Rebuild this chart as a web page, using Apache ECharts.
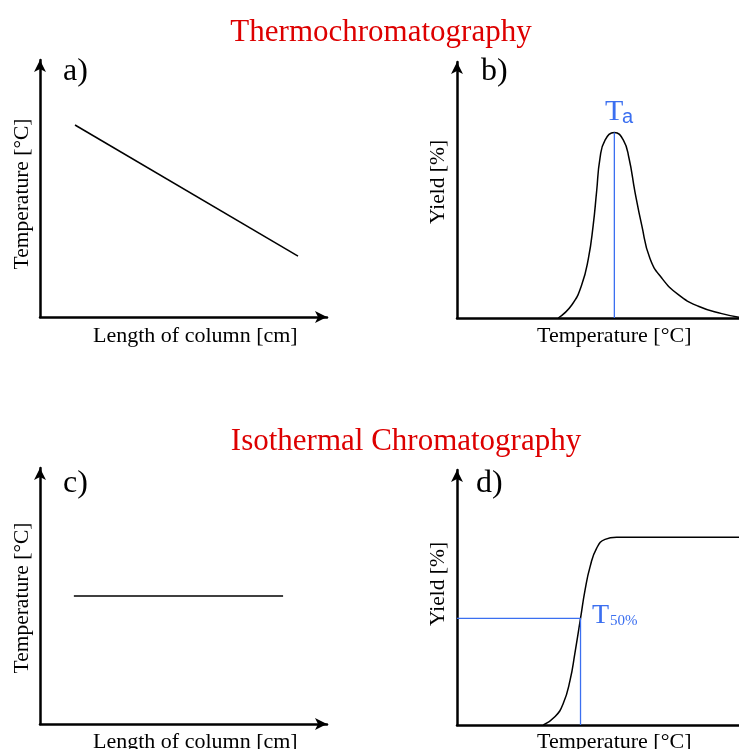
<!DOCTYPE html>
<html lang="en">
<head>
<meta charset="UTF-8">
<title>Thermochromatography vs isothermal chromatography</title>
<script src="https://cdn.jsdelivr.net/npm/echarts@6/dist/echarts.min.js"></script>
<style>
    * { margin: 0; padding: 0; }
    body { background: #fff; }
</style>
</head>
<body>
<div id="main" style="width:739px;height:749px;"></div>
<script>
// a) temperature along the column (gradient)
var gradientLine = [[12.2, 74.7], [89.9, 23.7]];
// b) yield peak vs temperature
var peakCurve = [
    [35.9, 0], [40.7, 5.1], [44.2, 12.9], [46.6, 23.3], [48.3, 36.3], [49.5, 49.3],
    [50.7, 62.4], [52.5, 69.5], [55.8, 72.5], [59.0, 69.5], [61.0, 62.4], [63.1, 49.3],
    [65.5, 36.3], [68.4, 23.3], [72.6, 15.6], [78.5, 9.1], [85.6, 4.6], [93.9, 1.7],
    [100, 0.3]
];
var peakTa = [55.8, 72.5];
// c) constant temperature along the column
var isoLine = [[11.8, 50], [84.7, 50]];
// d) yield (sigmoid) vs temperature
var sigmoidCurve = [
    [30.6, 0], [34.8, 3.3], [37.7, 8.5], [40.1, 17.6], [41.8, 28.1], [43.8, 41.8],
    [45.4, 52.9], [47.2, 62.1], [49.5, 69.3], [52.5, 72.8], [56.6, 73.6], [100, 73.6]
];
var point50 = [43.8, 41.8];

var black = '#000';
var blue = '#3b6ff0';
var red = '#dd0000';
var serif = '"Liberation Serif", "DejaVu Serif", serif';

var grids = [
    {left: 40, top: 60, width: 287, height: 257},
    {left: 457, top: 62, width: 282, height: 256},
    {left: 40, top: 468, width: 287, height: 256},
    {left: 457, top: 470, width: 282, height: 255}
];

function makeAxis(i, arrow) {
    return {
        type: 'value', gridIndex: i, min: 0, max: 100,
        axisLine: {
            show: true, onZero: false,
            symbol: arrow ? ['none', 'arrow'] : ['none', 'none'],
            symbolSize: [9, 12],
            lineStyle: {color: black, width: 2.5}
        },
        axisTick: {show: false},
        axisLabel: {show: false},
        splitLine: {show: false}
    };
}

var xAxes = [makeAxis(0, true), makeAxis(1, false), makeAxis(2, true), makeAxis(3, false)];
var yAxes = [makeAxis(0, true), makeAxis(1, true), makeAxis(2, true), makeAxis(3, true)];

function lineSeries(i, data, color, smooth, width) {
    return {
        type: 'line', xAxisIndex: i, yAxisIndex: i, data: data,
        showSymbol: false, smooth: smooth, silent: true,
        lineStyle: {color: color, width: width || 1.5}
    };
}

function txt(x, y, str, size, color) {
    return {
        type: 'text', left: x, top: y,
        style: {text: str, font: size + 'px ' + serif, fill: color || black}
    };
}

function vtxt(x, y, str) {
    return {
        type: 'text', x: x, y: y, rotation: Math.PI / 2,
        style: {text: str, font: '21.5px ' + serif, fill: black,
            align: 'center', verticalAlign: 'middle'}
    };
}

var chart = echarts.init(document.getElementById('main'));
chart.setOption({
    animation: false,
    backgroundColor: '#fff',
    title: [
        {text: 'Thermochromatography', left: 376, top: 12, textAlign: 'center',
            textStyle: {color: red, fontFamily: serif, fontSize: 31, fontWeight: 'normal'}},
        {text: 'Isothermal Chromatography', left: 401, top: 421, textAlign: 'center',
            textStyle: {color: red, fontFamily: serif, fontSize: 31, fontWeight: 'normal'}}
    ],
    grid: grids,
    xAxis: xAxes,
    yAxis: yAxes,
    series: [
        lineSeries(0, gradientLine, black, false),
        lineSeries(1, peakCurve, black, 0.5),
        lineSeries(1, [[peakTa[0], 0], peakTa], blue, false, 1.3),
        lineSeries(2, isoLine, black, false),
        lineSeries(3, sigmoidCurve, black, 0.5),
        lineSeries(3, [[0, point50[1]], point50, [point50[0], 0]], blue, false, 1.3)
    ],
    graphic: [
        txt(63, 56, 'a)', 32),
        txt(481, 56, 'b)', 32),
        txt(63, 468, 'c)', 32),
        txt(476, 468, 'd)', 32),
        txt(93, 325, 'Length of column [cm]', 22),
        txt(93, 731, 'Length of column [cm]', 22),
        txt(537, 325, 'Temperature [\u00B0C]', 22),
        txt(537, 731, 'Temperature [\u00B0C]', 22),
        vtxt(22, 194, 'Temperature [\u00B0C]'),
        vtxt(22, 598, 'Temperature [\u00B0C]'),
        vtxt(438, 182, 'Yield [%]'),
        vtxt(438, 584, 'Yield [%]'),
        txt(605, 97, 'T', 30, blue),
        {type: 'text', left: 622, top: 107,
            style: {text: 'a', font: '20px "Liberation Sans", sans-serif', fill: blue}},
        txt(592, 602, 'T', 28, blue),
        txt(610, 614, '50%', 15, blue)
    ]
});
</script>
</body>
</html>
